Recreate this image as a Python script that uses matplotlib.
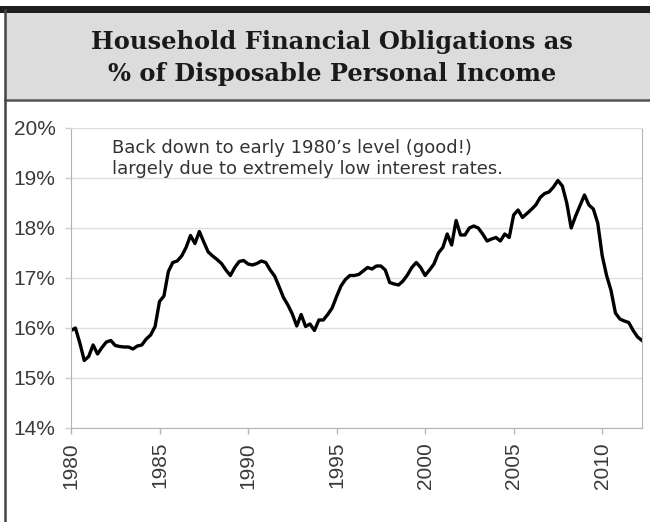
import numpy as np
import matplotlib
matplotlib.use("Agg")
import matplotlib.pyplot as plt
from matplotlib.patches import Rectangle
from matplotlib.lines import Line2D

# quarterly values, 1980Q1 .. 2012Q2
fo_ratio = [
    15.95, 16.00, 15.70, 15.35,   # 1980
    15.43, 15.66, 15.48, 15.61,   # 1981
    15.72, 15.75, 15.65, 15.63,   # 1982
    15.62, 15.62, 15.58, 15.64,   # 1983
    15.66, 15.78, 15.86, 16.03,   # 1984
    16.53, 16.64, 17.13, 17.31,   # 1985
    17.34, 17.44, 17.61, 17.85,   # 1986
    17.69, 17.93, 17.72, 17.52,   # 1987
    17.44, 17.37, 17.29, 17.16,   # 1988
    17.05, 17.21, 17.33, 17.35,   # 1989
    17.28, 17.26, 17.29, 17.34,   # 1990
    17.31, 17.16, 17.04, 16.83,   # 1991
    16.61, 16.46, 16.28, 16.04,   # 1992
    16.27, 16.03, 16.08, 15.95,   # 1993
    16.16, 16.16, 16.27, 16.40,   # 1994
    16.63, 16.84, 16.97, 17.05,   # 1995
    17.05, 17.07, 17.14, 17.21,   # 1996
    17.18, 17.24, 17.24, 17.16,   # 1997
    16.91, 16.88, 16.86, 16.94,   # 1998
    17.06, 17.21, 17.31, 17.21,   # 1999
    17.05, 17.16, 17.28, 17.50,   # 2000
    17.61, 17.88, 17.66, 18.15,   # 2001
    17.86, 17.86, 18.00, 18.04,   # 2002
    18.00, 17.88, 17.74, 17.78,   # 2003
    17.81, 17.74, 17.88, 17.81,   # 2004
    18.26, 18.36, 18.21, 18.29,   # 2005
    18.37, 18.46, 18.61, 18.69,   # 2006
    18.72, 18.82, 18.95, 18.84,   # 2007
    18.50, 18.00, 18.24, 18.45,   # 2008
    18.66, 18.46, 18.38, 18.10,   # 2009
    17.45, 17.05, 16.75, 16.30,   # 2010
    16.18, 16.14, 16.11, 15.95,   # 2011
    15.82, 15.75,                 # 2012
]
years = 1980 + np.arange(len(fo_ratio)) / 4.0

year_ticks = [1980, 1985, 1990, 1995, 2000, 2005, 2010]
pct_ticks = [14, 15, 16, 17, 18, 19, 20]

title = "Household Financial Obligations as\n% of Disposable Personal Income"
note = "Back down to early 1980\u2019s level (good!)\nlargely due to extremely low interest rates."

fig = plt.figure(figsize=(6.5, 5.22), dpi=100)

# header box and frame
fig.add_artist(Rectangle((0.008, 0.8084), 0.992, 0.168, transform=fig.transFigure,
                         facecolor="#dcdcdc", edgecolor="none", zorder=0))
fig.add_artist(Rectangle((0.0, 0.976), 1.0, 0.0125, transform=fig.transFigure,
                         facecolor="#1e1e1e", edgecolor="none", zorder=1))
fig.add_artist(Line2D([0.008, 1.0], [0.8084, 0.8084], transform=fig.transFigure,
                      color="#555555", lw=1.8))
fig.add_artist(Line2D([0.008, 0.008], [0.0, 0.98], transform=fig.transFigure,
                      color="#444444", lw=1.8))

fig.text(0.511, 0.889, title, ha="center", va="center", fontsize=17.4,
         fontweight="bold", family="DejaVu Serif", color="#1a1a1a", linespacing=1.42)

ax = fig.add_axes([0.1092, 0.1801, 0.8785, 0.5747])
ax.plot(years, fo_ratio, color="black", lw=2.4, solid_joinstyle="round")

ax.set_xlim(1980, years[-1])
ax.set_ylim(14, 20)
ax.set_xticks(year_ticks)
ax.set_xticklabels([str(y) for y in year_ticks], rotation=90)
ax.set_yticks(pct_ticks)
ax.set_yticklabels([f"{p}%" for p in pct_ticks])

ax.grid(axis="y", color="#dedede", lw=1)
ax.set_axisbelow(True)
for side in ["left", "bottom", "right"]:
    ax.spines[side].set_color("#b4b4b4")
ax.spines["top"].set_color("#dedede")
ax.tick_params(axis="x", length=4, width=1, color="#b4b4b4", pad=6,
               labelsize=15, labelcolor="#3a3a3a")
ax.tick_params(axis="y", length=4, width=1, color="#d0d0d0", pad=7,
               labelsize=15, labelcolor="#3a3a3a")
for lab in ax.get_xticklabels() + ax.get_yticklabels():
    lab.set_family("Liberation Sans")

ax.text(0.072, 0.963, note, transform=ax.transAxes, ha="left", va="top",
        fontsize=13, family="DejaVu Sans", color="#333333", linespacing=1.2)

fig.savefig("out.png", dpi=100)
